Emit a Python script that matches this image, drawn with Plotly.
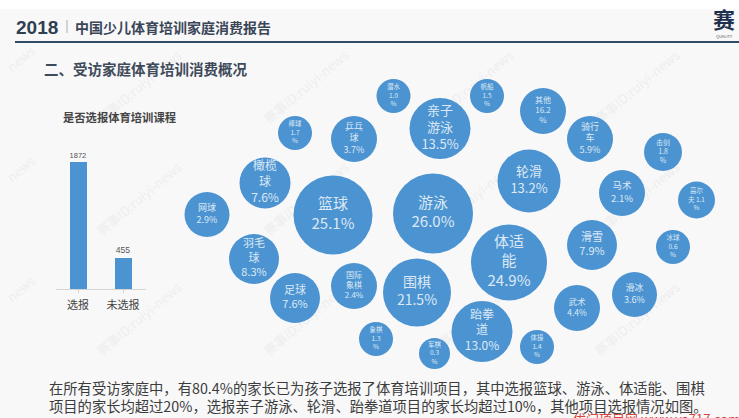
import plotly.graph_objects as go

# bar chart data
bar_cats = ["选报", "未选报"]
bar_vals = [1872, 455]

# bubbles: label, centre x, centre y, diameter
labels = ["网球<br>2.9%", "橄榄<br>球<br>7.6%", "棒球<br>1.7<br>%", "乒乓<br>球<br>3.7%", "篮球<br>25.1%",
          "游泳<br>26.0%", "亲子<br>游泳<br>13.5%", "潜水<br>1.0<br>%", "帆船<br>1.5<br>%", "其他<br>16.2<br>%",
          "骑行<br>车<br>5.9%", "击剑<br>1.8<br>%", "轮滑<br>13.2%", "马术<br>2.1%", "高尔<br>夫 1.1<br>%",
          "冰球<br>0.6<br>%", "滑雪<br>7.9%", "滑冰<br>3.6%", "武术<br>4.4%", "体适<br>能<br>24.9%",
          "围棋<br>21.5%", "跆拳<br>道<br>13.0%", "体操<br>1.4<br>%", "军棋<br>0.3<br>%", "象棋<br>1.3<br>%",
          "国际<br>象棋<br>2.4%", "足球<br>7.6%", "羽毛<br>球<br>8.3%"]
bubble_x = [207, 265, 295, 354, 333, 433, 440, 393.5, 487, 543, 590, 663, 529, 622, 696.5,
            673, 592, 634.5, 577, 509, 417, 482, 537, 434.5, 376, 354, 295, 254]
bubble_y = [214.5, 183, 133, 139, 215, 213.5, 128.5, 96, 96, 111, 139, 152, 181, 193, 200,
            247, 245, 294.5, 308, 262.5, 292.5, 331.5, 347, 353.5, 339, 286, 298, 259]
bubble_d = [45, 51, 34, 46, 79, 80, 61, 34, 34, 46, 46, 38, 63, 46, 37,
            34, 50, 45, 46, 76, 68, 61, 34, 31, 34, 46, 50, 50]
label_size = [9, 12, 6.5, 9, 15, 15, 13, 6.5, 6.5, 8, 9, 7, 13, 9.5, 6.5,
              6.5, 11, 9, 8.5, 15, 14, 12, 6.5, 6.5, 6.5, 8, 11, 11]

# watermark centres
mark_x = [140, 307, 472, 638, 22, 140, 307, 472, 638, 22, 140, 307, 472, 638, 22]
mark_y = [88, 88, 88, 88, 60, 200, 200, 200, 200, 170, 320, 320, 320, 320, 290]
mark_text = ["赛事ID:ruiyi-news"] * 4 + ["news"] + ["赛事ID:ruiyi-news"] * 4 + ["news"] + ["赛事ID:ruiyi-news"] * 4 + ["news"]

CJK = "Noto Sans CJK SC"
BLUE = "#4c93d1"
W, H = 739, 418

fig = go.Figure()

fig.add_trace(go.Scatter(
    x=bubble_x, y=bubble_y, mode="markers+text", text=labels, textposition="middle center",
    marker=dict(size=bubble_d, sizemode="diameter", color=BLUE, line=dict(width=0), opacity=1),
    textfont=dict(family=CJK, size=label_size, color="#dce9f5"),
    hoverinfo="skip", showlegend=False))

fig.add_trace(go.Bar(
    x=bar_cats, y=bar_vals, xaxis="x2", yaxis="y2", width=0.36, marker=dict(color=BLUE, line=dict(width=0)),
    text=bar_vals, textposition="outside", cliponaxis=False,
    textfont=dict(family="Liberation Sans", size=8.5, color="#555555"),
    hoverinfo="skip", showlegend=False))

shapes = [
    dict(type="rect", xref="x", yref="y", x0=0, x1=W, y0=9, y1=H, fillcolor="#f8f8f9", line=dict(width=0), layer="below"),
    dict(type="line", xref="x", yref="y", x0=15, x1=739, y0=42, y1=42, line=dict(color="#2f4b68", width=2)),
    dict(type="line", xref="x", yref="y", x0=67, x1=67, y0=20, y1=33, line=dict(color="#a8b0b8", width=1)),
]

# watermarks sit under the bubbles, so they go in as shape labels on the lower layer
for mx, my, mt in zip(mark_x, mark_y, mark_text):
    shapes.append(dict(type="rect", xref="x", yref="y", x0=mx - 10, x1=mx + 10, y0=my - 10, y1=my + 10,
                       line=dict(width=0), fillcolor="rgba(0,0,0,0)", layer="below",
                       label=dict(text=mt, textangle=-40, textposition="middle center",
                                  font=dict(family=CJK, size=13, color="#eeeeef"))))

notes = []


def note(x, y, text, size, color, anchor="left", bold=False, family=CJK, vanchor="middle"):
    if bold:
        text = "<b>" + text + "</b>"
    notes.append(dict(x=x, y=y, text=text, showarrow=False, xanchor=anchor, yanchor=vanchor,
                      font=dict(family=family, size=size, color=color)))


note(14, 27, "2018", 19, "#2f3f52", bold=True, family="Liberation Sans")
note(73, 27, "中国少儿体育培训家庭消费报告", 14, "#3a4658", bold=True)
note(42, 68, "二、受访家庭体育培训消费概况", 14.5, "#3f4a5a", bold=True)
note(61, 117, "是否选报体育培训课程", 11.3, "#444444", bold=True)
note(724, 18, "赛", 22, "#1e2f4d", anchor="center", bold=True)
note(724, 36, "QUALITY", 4, "#555555", anchor="center")
note(47, 387, "在所有受访家庭中，有80.4%的家长已为孩子选报了体育培训项目，其中选报篮球、游泳、体适能、围棋", 14.3, "#3c3c3c")
note(47, 405, "项目的家长均超过20%，选报亲子游泳、轮滑、跆拳道项目的家长均超过10%，其他项目选报情况如图。", 14.3, "#3c3c3c")
# the red stamp runs off the bottom edge in the reference too
note(571, 407, "优门项目网 www.ya717.com", 13, "#d8453c", vanchor="top")

fig.update_layout(
    width=W, height=H, margin=dict(l=0, r=0, t=0, b=0),
    paper_bgcolor="white", plot_bgcolor="rgba(0,0,0,0)",
    shapes=shapes, annotations=notes, bargap=0,
    xaxis=dict(range=[0, W], domain=[0, 1], visible=False),
    yaxis=dict(range=[H, 0], domain=[0, 1], visible=False),
    xaxis2=dict(domain=[55.5 / W, 145.5 / W], anchor="y2", type="category", range=[-0.5, 1.5],
                showgrid=False, showline=True, linecolor="#d4d4d4", linewidth=1,
                ticks="outside", tickcolor="#d4d4d4", ticklen=3, ticklabelstandoff=3,
                tickfont=dict(family=CJK, size=11, color="#444444")),
    yaxis2=dict(domain=[(H - 289) / H, (H - 289 + 135.7) / H], anchor="x2", range=[0, 2000], visible=False),
)

# page body has a default margin, take it off so the picture sits at 0,0
fig.write_html("out.html", config={"displayModeBar": False},
               post_script="document.body.style.margin='0';document.body.style.overflow='hidden';")
